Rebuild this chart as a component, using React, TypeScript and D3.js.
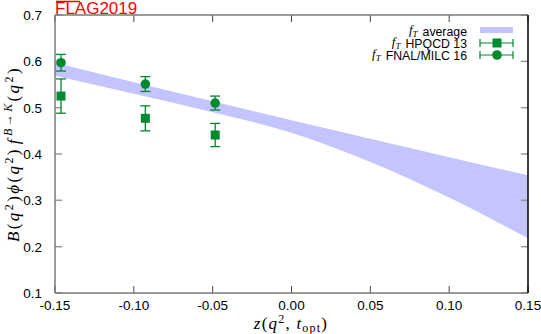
import React from "react";
import * as d3 from "d3";

const xTicks = [-0.15, -0.1, -0.05, 0.0, 0.05, 0.1, 0.15];
const yTicks = [0.1, 0.2, 0.3, 0.4, 0.5, 0.6, 0.7];

// f_T average band
const bandZ = [-0.15, -0.1, -0.05, 0.0, 0.05, 0.1, 0.15];
const bandHi = [0.597, 0.555, 0.514, 0.473, 0.433, 0.393, 0.354];
const bandLo = [0.569, 0.530, 0.490, 0.446, 0.383, 0.306, 0.218];

// HPQCD 13
const hpqcdZ = [-0.1462, -0.0927, -0.0484];
const hpqcdY = [0.525, 0.477, 0.441];
const hpqcdErr = [0.037, 0.027, 0.025];

// FNAL/MILC 16
const fnalZ = [-0.1462, -0.0927, -0.0484];
const fnalY = [0.597, 0.551, 0.510];
const fnalErr = [0.018, 0.016, 0.015];

const legendLabels = ["average", "HPQCD 13", "FNAL/MILC 16"];

const W = 541;
const H = 334;
const L = 55, R = 528, T = 15, B = 293;
const GREEN = "#00892f";
const BAND = "#c4c4ff";
const SANS = "'Liberation Sans', Arial, sans-serif";
const SERIF = "'Liberation Serif', 'Times New Roman', serif";

const CW: Record<string, number> = {
  a: 0.556, v: 0.5, e: 0.556, r: 0.333, g: 0.556, H: 0.722, P: 0.667, Q: 0.778,
  C: 0.722, D: 0.722, " ": 0.278, "1": 0.556, "3": 0.556, "6": 0.556, F: 0.611,
  N: 0.722, A: 0.667, L: 0.556, "/": 0.278, M: 0.833, I: 0.278,
};
const textW = (s: string, fs: number) =>
  s.split("").reduce((acc, c) => acc + (CW[c] ?? 0.556), 0) * fs;

export default function App() {
  const x = d3.scaleLinear().domain([-0.15, 0.15]).range([L, R]);
  const y = d3.scaleLinear().domain([0.1, 0.7]).range([B, T]);

  const bandData = bandZ.map((z, i) => ({ z, lo: bandLo[i], hi: bandHi[i] }));
  const area = d3
    .area<{ z: number; lo: number; hi: number }>()
    .x((d) => x(d.z))
    .y0((d) => y(d.lo))
    .y1((d) => y(d.hi))
    .curve(d3.curveMonotoneX);

  const cap = 5;
  const errBar = (cx: number, yl: number, yh: number, key: string) => (
    <g key={key} stroke={GREEN} strokeWidth={1.3}>
      <line x1={cx} x2={cx} y1={yl} y2={yh} />
      <line x1={cx - cap} x2={cx + cap} y1={yl} y2={yl} />
      <line x1={cx - cap} x2={cx + cap} y1={yh} y2={yh} />
    </g>
  );

  const legX1 = 480, legX2 = 513, legMid = 497, legText = 467;
  const legRows = [31, 43, 55];
  const legFs = 12.3;

  return (
    <svg width={W} height={H} style={{ position: "absolute", left: 0, top: 0, background: "#fff" }}>
      <defs>
        <clipPath id="plotclip">
          <rect x={L} y={T} width={R - L} height={B - T} />
        </clipPath>
      </defs>
      <rect x={0} y={0} width={W} height={H} fill="#fff" />

      {/* band */}
      <path d={area(bandData) || ""} fill={BAND} clipPath="url(#plotclip)" />

      {/* ticks */}
      {xTicks.map((t, i) => (
        <g key={"xt" + i} stroke="#444" strokeWidth={1}>
          <line x1={x(t)} x2={x(t)} y1={B} y2={B - 7} />
          <line x1={x(t)} x2={x(t)} y1={T} y2={T + 7} />
        </g>
      ))}
      {yTicks.map((t, i) => (
        <g key={"yt" + i} stroke="#999" strokeWidth={1.5}>
          <line x1={L} x2={L + 7} y1={y(t)} y2={y(t)} />
          <line x1={R} x2={R - 7} y1={y(t)} y2={y(t)} />
        </g>
      ))}

      {/* frame */}
      <line x1={L} x2={L} y1={T} y2={B} stroke="#7a7a7a" strokeWidth={1.5} />
      <line x1={L} x2={R} y1={B} y2={B} stroke="#7a7a7a" strokeWidth={1.5} />
      <line x1={L} x2={R} y1={T} y2={T} stroke="#7a7a7a" strokeWidth={1.5} />
      <line x1={R} x2={R} y1={T} y2={B} stroke="#000" strokeWidth={1.5} />

      {/* tick labels */}
      {xTicks.map((t, i) => (
        <text key={"xl" + i} x={x(t)} y={B + 17} textAnchor="middle" fontFamily={SANS} fontSize={13.5} fill="#000">
          {d3.format(".2f")(t).replace("−", "-")}
        </text>
      ))}
      {yTicks.map((t, i) => (
        <text key={"yl" + i} x={42} y={y(t) + 5} textAnchor="end" fontFamily={SANS} fontSize={13.5} fill="#000">
          {d3.format(".1f")(t)}
        </text>
      ))}

      {/* data: HPQCD squares */}
      {hpqcdZ.map((z, i) => (
        <g key={"h" + i}>
          {errBar(x(z), y(hpqcdY[i] - hpqcdErr[i]), y(hpqcdY[i] + hpqcdErr[i]), "he" + i)}
          <rect x={x(z) - 4.5} y={y(hpqcdY[i]) - 4.5} width={9} height={9} fill={GREEN} />
        </g>
      ))}
      {/* FNAL circles */}
      {fnalZ.map((z, i) => (
        <g key={"f" + i}>
          {errBar(x(z), y(fnalY[i] - fnalErr[i]), y(fnalY[i] + fnalErr[i]), "fe" + i)}
          <circle cx={x(z)} cy={y(fnalY[i])} r={4.8} fill={GREEN} />
        </g>
      ))}

      {/* legend */}
      <rect x={legX1} y={legRows[0] - 4} width={legX2 - legX1} height={6} fill={BAND} />
      {[1, 2].map((r) => (
        <g key={"lg" + r} stroke={GREEN} strokeWidth={1.2}>
          <line x1={legX1} x2={legX2} y1={legRows[r]} y2={legRows[r]} />
          <line x1={legX1} x2={legX1} y1={legRows[r] - 4} y2={legRows[r] + 4} />
          <line x1={legX2} x2={legX2} y1={legRows[r] - 4} y2={legRows[r] + 4} />
        </g>
      ))}
      <rect x={legMid - 4.5} y={legRows[1] - 4.5} width={9} height={9} fill={GREEN} />
      <circle cx={legMid} cy={legRows[2]} r={4.8} fill={GREEN} />
      {legendLabels.map((s, i) => (
        <g key={"lt" + i}>
          <text x={legText} y={legRows[i] + 4.5} textAnchor="end" fontFamily={SANS} fontSize={legFs} fill="#000">
            {s}
          </text>
          <text x={legText - textW(s, legFs) - 5} y={legRows[i] + 3} textAnchor="end" fontFamily={SERIF} fontStyle="italic" fontSize={13} fill="#000">
            f<tspan fontSize={9} dy={2.5}>T</tspan>
          </text>
        </g>
      ))}

      {/* FLAG2019 */}
      <line x1={56} x2={80} y1={1.5} y2={1.5} stroke="#ff0000" strokeWidth={1.5} />
      <text x={55} y={14} fontFamily={SANS} fontSize={17} fill="#ff0000">FLAG2019</text>

      {/* x-axis label */}
      <text x={291} y={329} textAnchor="middle" fontFamily={SERIF} fontSize={17} letterSpacing={1.2} fill="#000">
        <tspan fontStyle="italic">z</tspan>
        <tspan>(</tspan>
        <tspan fontStyle="italic">q</tspan>
        <tspan fontSize={12} dy={-6}>2</tspan>
        <tspan dy={6}>, </tspan>
        <tspan fontStyle="italic">t</tspan>
        <tspan fontSize={12} dy={3}>opt</tspan>
        <tspan dy={-3}>)</tspan>
      </text>

      {/* y-axis label */}
      <text transform={`translate(19,${(T + B) / 2}) rotate(-90)`} textAnchor="middle" fontFamily={SERIF} fontSize={17} letterSpacing={2.4} fill="#000">
        <tspan fontStyle="italic">B</tspan>
        <tspan>(</tspan>
        <tspan fontStyle="italic">q</tspan>
        <tspan fontSize={12} dy={-6}>2</tspan>
        <tspan dy={6}>)</tspan>
        <tspan fontStyle="italic">ϕ</tspan>
        <tspan>(</tspan>
        <tspan fontStyle="italic">q</tspan>
        <tspan fontSize={12} dy={-6}>2</tspan>
        <tspan dy={6}>)</tspan>
        <tspan fontStyle="italic" dx={3}>f</tspan>
        <tspan fontStyle="italic" fontSize={12} dy={-7} dx={1}>B→K</tspan>
        <tspan dy={7}>(</tspan>
        <tspan fontStyle="italic">q</tspan>
        <tspan fontSize={12} dy={-6}>2</tspan>
        <tspan dy={6}>)</tspan>
      </text>
    </svg>
  );
}
